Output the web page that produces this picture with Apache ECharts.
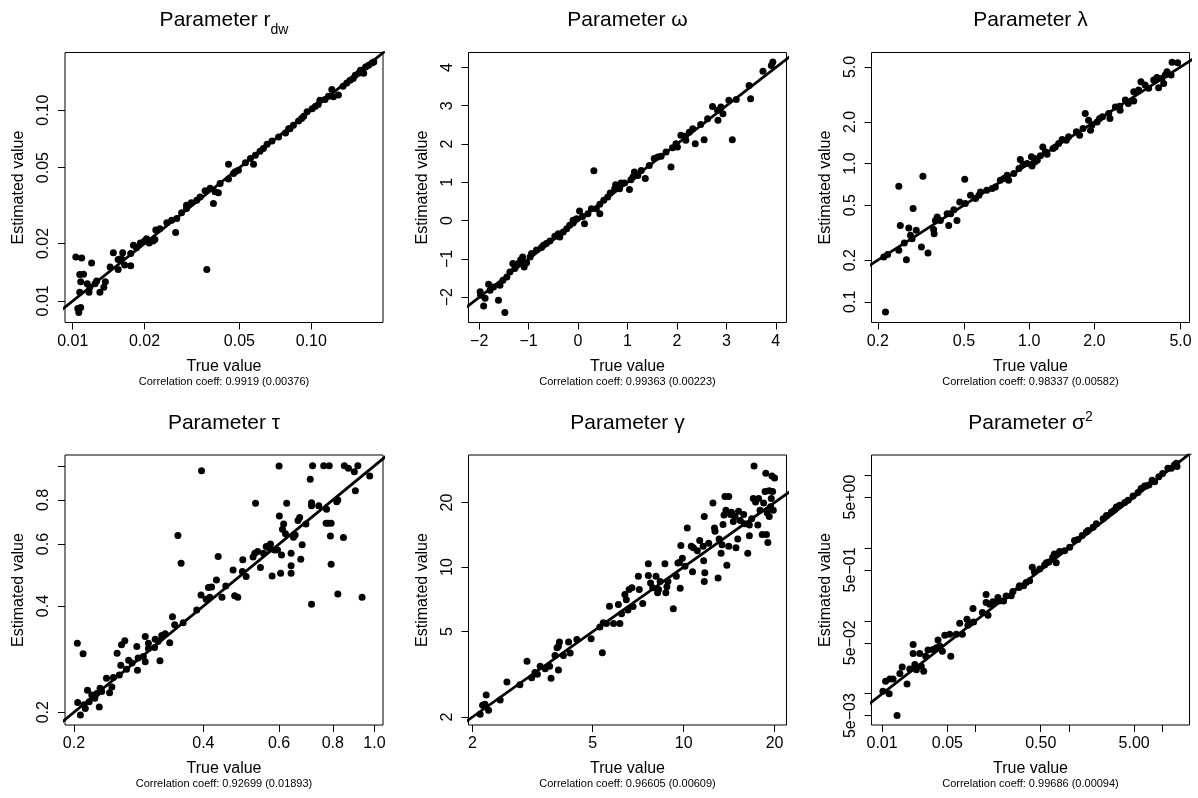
<!DOCTYPE html>
<html><head><meta charset="utf-8">
<script src="https://cdn.jsdelivr.net/npm/echarts@6/dist/echarts.min.js"></script>
<style>html,body{margin:0;padding:0;background:#fff}#c{width:1198px;height:798px}</style>
</head><body><div id="c"></div>
<script>
// ---------- data: [true value, estimated value] ----------
const rdwPoints = [
[0.0103,0.0170],[0.0109,0.0168],[0.0107,0.01374],[0.0111,0.0138],[0.0108,0.01258],[0.0107,0.0111],[0.0105,0.00912],[0.0106,0.00869],[0.0108,0.00923],
[0.0120,0.0158],[0.0115,0.0123],[0.0118,0.0118],[0.0117,0.0111],[0.0124,0.0123],[0.0126,0.0127],[0.0130,0.0111],[0.0137,0.0126],[0.0135,0.0118],
[0.01435,0.01507],[0.0148,0.0179],[0.0155,0.0165],[0.0155,0.0146],[0.0162,0.0179],[0.0165,0.0154],[0.0160,0.0167],[0.0175,0.0153],[0.0175,0.0177],
[0.01797,0.0196],[0.0185,0.0190],[0.0192,0.0201],[0.0200,0.0206],[0.0204,0.0212],[0.0209,0.0201],[0.0217,0.0206],[0.0221,0.0210],[0.0223,0.0235],
[0.0248,0.0257],[0.0270,0.0228],[0.0273,0.0270],[0.0286,0.0290],[0.0300,0.0305],[0.0314,0.0327],[0.0300,0.0317],[0.0342,0.0351],[0.0359,0.0378],
[0.0365,0.0146],[0.0389,0.0324],[0.0395,0.0373],[0.0408,0.0369],[0.0415,0.0412],[0.0450,0.0435],[0.0450,0.0521],[0.0480,0.0476],[0.0495,0.0484],
[0.0530,0.0530],[0.0573,0.0521],[0.0583,0.0580],[0.0610,0.0609],[0.0653,0.0663],[0.0685,0.0690],[0.0730,0.0724],[0.0780,0.0760],[0.0804,0.0800],
[0.0842,0.0833],[0.0885,0.0877],[0.0930,0.0930],[0.0961,0.0980],[0.1009,0.1018],[0.1039,0.1047],[0.1088,0.1127],[0.1143,0.1137],[0.1181,0.1185],
[0.1220,0.1284],[0.1240,0.1175],[0.1300,0.1200],[0.1360,0.1336],[0.1410,0.1387],[0.1455,0.1436],[0.1530,0.1523],[0.1610,0.1620],[0.1660,0.1560],
[0.1690,0.1687],[0.1740,0.1720],[0.1797,0.1770],[0.1830,0.1790],
[0.0232,0.0239],[0.0260,0.0265],[0.0331,0.0337],[0.0377,0.0389],[0.0472,0.0466],[0.0556,0.0558],[0.0630,0.0630],[0.0815,0.0800],[0.0911,0.0904],
[0.1070,0.1070],[0.1500,0.1465],[0.1580,0.1560]
];
const omegaPoints = [
[-1.98,-1.86],[-1.97,-1.95],[-1.91,-2.23],[-1.88,-2.03],[-1.81,-1.66],[-1.78,-1.82],[-1.71,-1.73],[-1.61,-2.08],[-1.58,-1.69],[-1.52,-1.56],
[-1.48,-2.40],[-1.44,-1.47],[-1.38,-1.34],[-1.32,-1.12],[-1.28,-1.25],[-1.16,-1.02],[-1.12,-0.95],[-1.09,-1.21],[-1.04,-1.10],[-0.94,-0.86],
[-0.84,-0.77],[-0.74,-0.70],[-0.70,-0.64],[-0.57,-0.53],[-0.47,-0.41],[-0.40,-0.34],[-0.37,-0.43],[-0.23,-0.21],[-0.17,-0.12],[-0.10,-0.06],
[-0.03,0.05],[0.03,0.25],[0.09,0.11],[0.13,-0.08],[0.20,0.18],[0.27,0.31],[0.32,1.30],[0.37,0.31],[0.44,0.18],[0.44,0.43],[0.52,0.53],
[0.60,0.62],[0.65,0.72],[0.74,0.83],[0.76,0.94],[0.84,0.83],[0.87,0.98],[0.94,0.98],[1.04,0.81],[1.07,1.07],[1.14,1.27],[1.21,1.18],
[1.36,1.10],[1.44,1.44],[1.54,1.62],[1.68,1.68],[1.78,1.79],[1.88,1.40],[1.91,1.90],[1.98,2.01],[2.01,1.92],[2.08,2.23],[2.17,2.20],
[2.25,2.31],[2.32,2.40],[2.37,2.01],[2.48,2.51],[2.55,2.11],[2.62,2.66],[2.72,2.98],[2.82,2.88],[2.83,2.62],[2.89,2.97],[2.93,2.79],
[3.12,2.11],[3.20,3.16],[3.46,3.53],[3.49,3.18],[3.74,3.90],[3.91,4.05],[3.94,4.14],
[-1.21,-1.12],[-0.97,-0.95],[-0.64,-0.60],[-0.30,-0.30],[-0.10,0.01],[1.11,1.14],[1.28,1.31],[1.61,1.66],[2.18,2.10],[3.05,3.14]
];
const lambdaPoints = [
[0.213,0.211],[0.222,0.220],[0.217,0.0842],[0.250,0.685],[0.250,0.236],[0.254,0.357],[0.265,0.266],[0.271,0.201],[0.278,0.342],[0.283,0.303],
[0.291,0.472],[0.288,0.286],[0.301,0.329],[0.318,0.249],[0.323,0.810],[0.341,0.225],[0.362,0.333],[0.364,0.311],[0.369,0.388],[0.376,0.411],
[0.389,0.388],[0.418,0.434],[0.425,0.357],[0.434,0.434],[0.449,0.464],[0.464,0.388],[0.478,0.528],[0.504,0.770],[0.507,0.513],[0.536,0.590],
[0.565,0.558],[0.586,0.590],[0.596,0.623],[0.675,0.659],[0.698,0.677],[0.736,0.757],[0.764,0.778],[0.791,0.823],[0.804,0.757],[0.849,0.846],
[0.910,1.069],[0.937,0.989],[0.978,1.0],[1.024,1.118],[1.031,0.962],[1.06,1.028],[1.09,1.057],[1.127,1.137],[1.156,1.32],[1.188,1.215],
[1.210,1.169],[1.289,1.285],[1.32,1.32],[1.368,1.396],[1.42,1.493],[1.485,1.476],[1.52,1.56],[1.652,1.696],[1.71,1.60],[1.773,1.793],
[1.816,2.30],[1.88,2.06],[1.92,1.744],[1.95,1.90],[2.115,2.118],[2.18,2.18],[2.33,2.30],[2.36,2.12],[2.50,2.57],[2.616,2.60],
[2.78,2.88],[2.87,2.72],[3.04,3.31],[3.04,2.83],[3.20,3.40],[3.28,3.91],[3.43,3.70],[3.56,3.50],[3.76,4.02],[3.89,4.20],
[3.96,3.54],[4.10,4.13],[4.25,4.37],[4.33,4.61],[4.18,3.80],[4.52,4.37],[4.57,5.40],[4.85,5.37],
[0.637,0.641],[0.897,0.920],[1.06,1.087],[2.06,2.0],[2.63,2.43]
];
const tauPoints = [
[0.2036,0.314],[0.210,0.293],[0.204,0.213],[0.207,0.1965],[0.211,0.210],[0.2125,0.205],[0.215,0.231],[0.217,0.214],[0.220,0.224],[0.2236,0.219],
[0.226,0.226],[0.229,0.207],[0.230,0.234],[0.232,0.229],[0.238,0.2497],[0.242,0.227],[0.245,0.236],[0.247,0.251],[0.252,0.294],[0.255,0.255],
[0.257,0.272],[0.258,0.311],[0.2626,0.319],[0.265,0.265],[0.268,0.281],[0.273,0.276],[0.280,0.307],[0.281,0.263],[0.282,0.285],[0.290,0.288],
[0.293,0.328],[0.293,0.278],[0.298,0.314],[0.298,0.303],[0.309,0.322],[0.308,0.305],[0.317,0.280],[0.314,0.318],[0.320,0.330],[0.326,0.334],
[0.334,0.315],[0.339,0.373],[0.343,0.354],[0.349,0.634],[0.355,0.529],[0.359,0.359],[0.386,0.390],[0.395,0.430],[0.396,0.968],[0.406,0.418],
[0.411,0.452],[0.418,0.453],[0.414,0.424],[0.433,0.553],[0.442,0.424],[0.451,0.456],[0.473,0.428],[0.481,0.424],[0.493,0.501],[0.494,0.541],
[0.503,0.485],[0.527,0.565],[0.529,0.783],[0.535,0.571],[0.543,0.515],[0.552,0.565],[0.560,0.590],[0.573,0.600],[0.578,0.487],[0.585,0.577],
[0.595,0.577],[0.600,0.999],[0.601,0.721],[0.605,0.496],[0.608,0.558],[0.611,0.661],[0.615,0.684],[0.625,0.783],[0.640,0.521],[0.640,0.496],
[0.640,0.565],[0.648,0.627],[0.654,0.636],[0.664,0.700],[0.670,0.713],[0.674,0.543],[0.679,0.597],[0.693,0.684],[0.709,0.916],[0.714,0.786],
[0.714,0.770],[0.714,0.405],[0.718,1.0],[0.742,0.770],[0.774,0.753],[0.762,1.0],[0.785,1.0],[0.772,0.687],[0.780,0.687],[0.793,0.687],
[0.790,0.632],[0.793,0.526],[0.817,0.791],[0.822,0.800],[0.822,0.433],[0.847,0.626],[0.851,1.0],[0.870,0.984],[0.898,0.962],[0.903,0.849],
[0.915,1.0],[0.936,0.424],[0.975,0.936],
[0.429,0.474],[0.469,0.506],[0.522,0.551],[0.570,0.583],[0.621,0.642]
];
const gammaPoints = [
[2.12,2.06],[2.16,2.27],[2.20,2.29],[2.22,2.53],[2.26,2.15],[2.47,2.40],[2.60,2.91],[3.03,3.64],[3.14,3.05],[3.22,3.22],
[3.28,3.16],[3.35,3.45],[3.48,3.36],[3.6,3.45],[3.64,3.03],[3.75,3.87],[3.81,4.20],[3.85,4.27],[3.88,4.47],[3.85,3.31],
[4.0,3.87],[4.16,4.47],[4.21,3.98],[4.94,4.63],[5.28,5.26],[5.38,3.99],[5.42,5.50],[5.68,6.57],[5.55,5.46],[5.86,5.46],
[6.08,6.69],[6.15,5.46],[6.23,6.06],[6.39,7.44],[6.46,7.04],[6.54,6.31],[6.6,7.85],[6.74,8.0],[7.08,9.05],[7.13,7.85],
[7.32,6.76],[7.64,10.37],[7.64,9.14],[7.77,8.42],[7.9,8.0],[8.1,9.05],[8.2,7.58],[8.26,7.85],[8.36,8.57],[8.67,10.37],
[8.73,7.58],[8.87,8.57],[9.24,6.40],[9.46,9.05],[9.57,10.45],[9.68,10.5],[9.74,7.96],[9.79,12.62],[10.1,10.1],[9.9,11.0],
[10.28,15.2],[10.6,12.5],[10.7,9.5],[10.77,12.3],[11.1,11.9],[11.3,13.3],[11.6,12.5],[11.7,8.57],[11.65,10.7],[11.7,17.2],
[11.75,9.4],[12.1,12.9],[12.5,19.9],[12.65,15.2],[12.7,14.7],[13.0,8.9],[13.1,13.5],[13.3,11.6],[13.4,12.7],[13.5,15.8],
[13.6,17.5],[13.7,21.3],[13.8,18.4],[13.9,10.2],[14.1,21.3],[14.1,12.5],[14.3,17.6],[14.4,18.0],[14.6,16.3],[14.8,17.2],
[14.9,12.3],[15.1,13.5],[15.2,18.2],[15.4,16.5],[15.8,17.6],[15.9,15.9],[16.3,11.6],[16.5,14.0],[16.5,15.7],[16.8,16.8],
[17.0,20.9],[17.1,29.6],[17.3,20.1],[17.6,15.7],[17.7,20.9],[17.9,18.4],[18.2,14.2],[18.4,19.9],[18.6,22.5],[18.7,27.4],
[18.8,14.2],[18.9,17.9],[19.0,13.0],[19.2,22.7],[19.2,17.2],[19.5,20.9],[19.6,26.6],[19.7,22.5],[19.8,18.4],[20.0,26.0],
[19.4,19.1],[2.87,2.83],[4.43,4.6],[6.8,6.55],[8.8,8.1]
];
const sigma2Points = [
[0.0102,0.0108],[0.0109,0.0148],[0.0119,0.0100],[0.0121,0.0159],[0.0131,0.0159],[0.01447,0.00502],[0.0155,0.0189],[0.0164,0.0233],[0.0185,0.0136],[0.0198,0.0219],
[0.0215,0.0475],[0.0215,0.0357],[0.0224,0.0251],[0.0233,0.0214],[0.0253,0.0357],[0.0263,0.0238],[0.0279,0.0203],[0.0293,0.0328],[0.0310,0.0397],[0.0351,0.0405],
[0.0381,0.0427],[0.0397,0.0545],[0.0414,0.0450],[0.0442,0.0384],[0.0469,0.0632],[0.0530,0.0653],[0.0544,0.0328],[0.0625,0.0653],[0.0678,0.0925],[0.0724,0.0653],
[0.0811,0.105],[0.0830,0.0870],[0.0880,0.0925],[0.0941,0.1475],[0.0955,0.0967],[0.1185,0.130],[0.130,0.230],[0.130,0.179],[0.1363,0.119],[0.142,0.169],
[0.1535,0.183],[0.1787,0.188],[0.200,0.188],[0.2418,0.2207],[0.252,0.253],[0.2924,0.2876],[0.3285,0.303],[0.3487,0.337],[0.3805,0.356],[0.4057,0.543],
[0.4876,0.515],[0.550,0.585],[0.611,0.640],[0.672,0.746],[0.700,0.830],[0.7327,0.628],[0.796,0.894],[0.902,0.92],[1.021,1.026],[1.15,1.268],
[1.25,1.31],[1.39,1.486],[1.61,1.74],[1.82,1.93],[1.97,2.15],[2.33,2.52],[2.53,2.80],[2.86,3.12],[3.23,3.66],[3.5,3.86],
[3.97,4.20],[4.31,4.52],[4.87,5.19],[5.5,5.77],[5.94,6.55],[6.48,7.10],[7.2,7.3],[7.8,8.53],[8.3,8.1],[9.2,9.48],
[10.1,10.5],[11.5,12.4],[12.5,12.4],[13.5,13.8],[14.4,13.1],[14.2,14.6],
[0.174,0.209],[0.213,0.22],[0.296,0.303],[0.428,0.47],[0.575,0.628],[1.54,1.66],[3.06,3.3],[6.7,7.1]
];

// ---------- tick values and labels ----------
const rdwXTicks = [0.01,0.02,0.05,0.1];          const rdwXLabels = ['0.01','0.02','0.05','0.10'];
const rdwYTicks = [0.01,0.02,0.05,0.1];          const rdwYLabels = ['0.01','0.02','0.05','0.10'];
const omegaXTicks = [-2,-1,0,1,2,3,4];           const omegaXLabels = ['\u22122','\u22121','0','1','2','3','4'];
const omegaYTicks = [-2,-1,0,1,2,3,4];           const omegaYLabels = ['\u22122','\u22121','0','1','2','3','4'];
const lambdaXTicks = [0.2,0.5,1,2,5];            const lambdaXLabels = ['0.2','0.5','1.0','2.0','5.0'];
const lambdaYTicks = [0.1,0.2,0.5,1,2,5];        const lambdaYLabels = ['0.1','0.2','0.5','1.0','2.0','5.0'];
const tauXTicks = [0.2,0.4,0.6,0.8,1.0];         const tauXLabels = ['0.2','0.4','0.6','0.8','1.0'];
const tauYTicks = [0.2,0.4,0.6,0.8,1.0];         const tauYLabelVals = [0.2,0.4,0.6,0.8]; const tauYLabels = ['0.2','0.4','0.6','0.8'];
const gammaXTicks = [2,5,10,20];                 const gammaXLabels = ['2','5','10','20'];
const gammaYTicks = [2,5,10,20];                 const gammaYLabels = ['2','5','10','20'];
const sigma2XTicks = [0.01,0.05,0.1,0.5,1,5,10]; const sigma2XLabelVals = [0.01,0.05,0.5,5]; const sigma2XLabels = ['0.01','0.05','0.50','5.00'];
const sigma2YTicks = [0.005,0.01,0.05,0.1,0.5,1,5,10]; const sigma2YLabelVals = [0.005,0.05,0.5,5]; const sigma2YLabels = ['5e\u221203','5e\u221202','5e\u221201','5e+00'];

const corrTexts = [
 'Correlation coeff: 0.9919 (0.00376)',
 'Correlation coeff: 0.99363 (0.00223)',
 'Correlation coeff: 0.98337 (0.00582)',
 'Correlation coeff: 0.92699 (0.01893)',
 'Correlation coeff: 0.96605 (0.00609)',
 'Correlation coeff: 0.99686 (0.00094)'
];

const panels = [
 {title:'{m|Parameter r}{s|dw}', dy:3, pts:rdwPoints, type:'log', xr:[0.00928,0.2], yr:[0.0077,0.2007],
  xt:rdwXTicks, xlv:rdwXTicks, xl:rdwXLabels, yt:rdwYTicks, ylv:rdwYTicks, yl:rdwYLabels, id:[0.001,10]},
 {title:'{m|Parameter \u03c9}', dy:0, pts:omegaPoints, type:'value', xr:[-2.216,4.216], yr:[-2.66,4.39],
  xt:omegaXTicks, xlv:omegaXTicks, xl:omegaXLabels, yt:omegaYTicks, ylv:omegaYTicks, yl:omegaYLabels, id:[-10,10]},
 {title:'{m|Parameter \u03bb}', dy:0, pts:lambdaPoints, type:'log', xr:[0.187,5.5], yr:[0.0708,6.36],
  xt:lambdaXTicks, xlv:lambdaXTicks, xl:lambdaXLabels, yt:lambdaYTicks, ylv:lambdaYTicks, yl:lambdaYLabels, id:[0.01,100]},
 {title:'{m|Parameter \u03c4}', dy:0, pts:tauPoints, type:'log', xr:[0.1906,1.047], yr:[0.184,1.073],
  xt:tauXTicks, xlv:tauXTicks, xl:tauXLabels, yt:tauYTicks, ylv:tauYLabelVals, yl:tauYLabels, id:[0.01,100]},
 {title:'{m|Parameter \u03b3}', dy:0, pts:gammaPoints, type:'log', xr:[1.94,21.9], yr:[1.835,33.3],
  xt:gammaXTicks, xlv:gammaXTicks, xl:gammaXLabels, yt:gammaYTicks, ylv:gammaYTicks, yl:gammaYLabels, id:[0.1,1000]},
 {title:'{m|Parameter \u03c3}{p|2}', dy:-1, pts:sigma2Points, type:'log', xr:[0.0077,19.6], yr:[0.00372,18.9],
  xt:sigma2XTicks, xlv:sigma2XLabelVals, xl:sigma2XLabels, yt:sigma2YTicks, ylv:sigma2YLabelVals, yl:sigma2YLabels, id:[0.0001,1000]}
];

const colLeft = [65, 468.5, 871.5], rowTop = [52.5, 455], W = 318, H = 270;
const FONT = '"Liberation Sans", Arial, Helvetica, sans-serif';

function fmt(vals, labels){
  return function(v){
    for (let i=0;i<vals.length;i++){ if (Math.abs(v-vals[i]) <= Math.abs(vals[i])*1e-6 + 1e-12) return labels[i]; }
    return '';
  };
}

const grid=[], xAxis=[], yAxis=[], series=[], graphic=[];
panels.forEach((p,i)=>{
  const c=i%3, r=Math.floor(i/3);
  const L=colLeft[c], T=rowTop[r];
  grid.push({left:L, top:T, width:W, height:H, show:true, borderColor:'#000', borderWidth:1, backgroundColor:'transparent', containLabel:false});
  const common = {
    type:p.type, gridIndex:i, logBase:10,
    axisLine:{show:false, onZero:false}, splitLine:{show:false}, minorTick:{show:false}, minorSplitLine:{show:false},
    nameLocation:'middle',
    nameTextStyle:{fontFamily:FONT, fontSize:16, color:'#000'}
  };
  xAxis.push(Object.assign({}, common, {
    position:'bottom',
    min:p.xr[0], max:p.xr[1], name:'True value', nameGap:36,
    axisTick:{show:true, inside:false, length:7, lineStyle:{color:'#000', width:1}, customValues:p.xt},
    axisLabel:{show:true, customValues:p.xlv, formatter:fmt(p.xlv,p.xl), margin:11, fontFamily:FONT, fontSize:16, color:'#000', showMinLabel:true, showMaxLabel:true}
  }));
  yAxis.push(Object.assign({}, common, {
    position:'left',
    min:p.yr[0], max:p.yr[1], name:'Estimated value', nameGap:38,
    axisTick:{show:true, inside:false, length:7, lineStyle:{color:'#000', width:1}, customValues:p.yt},
    axisLabel:{show:true, rotate:90, customValues:p.ylv, formatter:fmt(p.ylv,p.yl), margin:13, fontFamily:FONT, fontSize:16, color:'#000', showMinLabel:true, showMaxLabel:true}
  }));
  series.push({type:'scatter', xAxisIndex:i, yAxisIndex:i, data:p.pts, symbol:'circle', symbolSize:7,
    itemStyle:{color:'#000', opacity:1}, silent:true, animation:false, clip:true});
  series.push({type:'line', xAxisIndex:i, yAxisIndex:i, data:[[p.id[0],p.id[0]],[p.id[1],p.id[1]]],
    showSymbol:false, symbol:'none', lineStyle:{color:'#000', width:2.75, opacity:1}, silent:true, animation:false, clip:true, z:3});
  graphic.push({type:'text', x:L+W/2, y:20+p.dy + (r? 403:0), silent:true,
    style:{text:p.title, fontFamily:FONT, textAlign:'center', textVerticalAlign:'middle', fill:'#000',
      rich:{
        m:{fontFamily:FONT, fontSize:21, fill:'#000', verticalAlign:'bottom', padding: p.dy===3? [0,0,6.5,0]:[0,0,0,0]},
        s:{fontFamily:FONT, fontSize:14, fill:'#000', verticalAlign:'bottom'},
        p:{fontFamily:FONT, fontSize:14, fill:'#000', verticalAlign:'bottom', padding:[0,0,9,0]}
      }}});
  graphic.push({type:'text', x:L+W/2, y:T+H+59.4, silent:true,
    style:{text:corrTexts[i], fontFamily:FONT, fontSize:11, fill:'#000', textAlign:'center', textVerticalAlign:'middle'}});
});

const chart = echarts.init(document.getElementById('c'), null, {renderer:'canvas'});
chart.setOption({backgroundColor:'#fff', animation:false, grid, xAxis, yAxis, series, graphic});
</script>
</body></html>
